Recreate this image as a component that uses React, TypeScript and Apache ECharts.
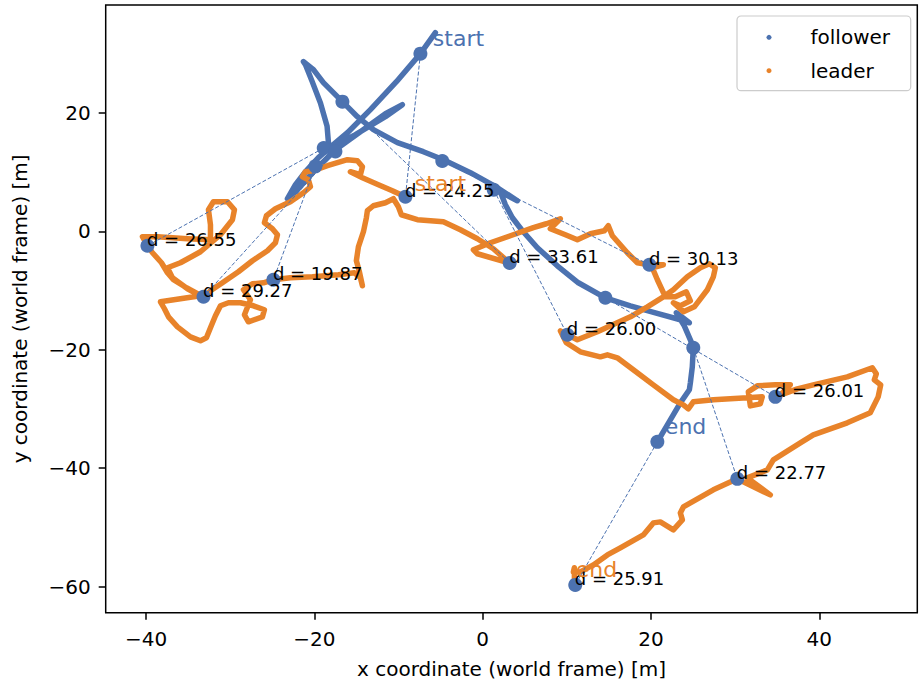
import React, { useEffect, useRef } from 'react';
import * as echarts from 'echarts';

const BLUE = '#4C72B0';
const ORANGE = '#E8832A';
const FONT = 'DejaVu Sans';

// follower trajectory (world frame, metres)
const followerPath: [number, number][] = [
  [-5.62, 33.58], [-7.40, 30.03], [-10.25, 25.30], [-13.34, 20.57], [-16.07, 16.68],
  [-18.45, 13.81], [-19.52, 12.46], [-21.06, 10.09], [-22.25, 7.89], [-23.20, 5.53],
  [-22.01, 7.05], [-19.88, 10.43], [-17.50, 13.81], [-14.53, 16.85], [-11.56, 19.89],
  [-9.54, 21.41], [-11.56, 19.38], [-15.12, 16.34], [-18.09, 14.15], [-19.04, 13.47],
  [-18.33, 14.99], [-18.49, 17.75], [-19.28, 21.70], [-20.27, 25.35], [-21.06, 28.17],
  [-21.30, 28.68], [-20.11, 27.33], [-18.93, 25.13], [-16.67, 21.92], [-14.89, 19.38],
  [-12.99, 17.19], [-10.13, 14.99], [-7.05, 13.47], [-4.67, 12.12], [-1.46, 9.92],
  [1.75, 7.39], [4.12, 5.19], [2.10, 6.71], [2.70, 4.51], [3.53, 2.32],
  [4.72, 0.12], [6.50, -2.75], [8.87, -5.80], [11.37, -8.67], [14.58, -11.21],
  [17.55, -12.56], [20.52, -13.74], [23.49, -14.92], [24.56, -15.43], [23.01, -13.74],
  [23.96, -15.94], [24.68, -18.30], [25.03, -19.66], [24.91, -22.87], [24.68, -25.57],
  [24.56, -26.75], [23.49, -28.95], [22.30, -31.82], [20.76, -35.54],
];

// leader trajectory (world frame, metres)
const leaderPath: [number, number][] = [
  [-9.18, 5.86], [-10.73, 6.88], [-12.39, 7.89], [-14.29, 9.08], [-15.72, 10.09],
  [-14.53, 9.58], [-14.29, 10.93], [-14.89, 11.95], [-16.07, 12.12], [-18.45, 11.10],
  [-20.11, 10.26], [-21.07, 10.09], [-21.42, 9.24], [-20.71, 8.74], [-20.47, 7.55],
  [-21.30, 6.54], [-22.85, 5.02], [-24.63, 3.84], [-25.70, 2.65], [-25.94, 1.47],
  [-24.99, 0.46], [-24.39, -0.56], [-24.63, -1.91], [-25.58, -3.26], [-27.36, -4.95],
  [-29.03, -6.81], [-30.93, -8.67], [-32.35, -10.02], [-33.18, -11.04], [-35.20, -9.51],
  [-36.75, -8.16], [-37.46, -6.98], [-38.17, -5.29], [-39.24, -3.60], [-39.84, -2.42],
  [-40.43, -0.90], [-38.65, -0.90], [-35.08, -1.23], [-32.35, -1.40], [-32.35, 1.13],
  [-32.59, 3.67], [-32.00, 5.02], [-30.33, 5.02], [-29.50, 3.67], [-29.74, 1.98],
  [-31.16, -0.56], [-33.54, -3.43], [-35.92, -5.29], [-37.46, -6.13], [-36.87, -7.82],
  [-35.08, -9.68], [-33.54, -10.87], [-35.92, -11.37], [-38.29, -11.88], [-37.82, -13.06],
  [-37.34, -14.42], [-36.27, -16.11], [-34.73, -17.80], [-33.54, -18.47], [-32.83, -17.96],
  [-32.35, -16.27], [-31.76, -14.25], [-31.16, -12.56], [-30.21, -12.05], [-28.79, -12.05],
  [-27.24, -12.56], [-25.94, -13.23], [-26.17, -14.42], [-27.84, -15.26], [-28.31, -14.08],
  [-27.60, -11.54], [-28.43, -9.85], [-27.36, -8.84], [-26.05, -8.67], [-24.87, -8.16],
  [-22.85, -7.82], [-20.23, -7.66], [-17.14, -7.32], [-15.24, -6.98], [-14.53, -7.82],
  [-14.29, -9.18], [-14.65, -6.81], [-15.01, -4.95], [-14.77, -2.59], [-14.17, -0.05],
  [-13.82, 2.32], [-13.70, 3.50], [-12.99, 4.34], [-11.56, 4.85], [-10.61, 5.53],
  [-10.02, 4.17], [-9.66, 2.82], [-7.76, 1.98], [-4.67, 1.64], [-2.65, 0.29],
  [-0.63, -1.23], [1.27, -2.92], [3.21, -5.34], [-0.63, -3.77], [-1.10, -3.09],
  [0.91, -1.91], [3.29, -0.73], [6.02, 0.63], [7.57, 1.30], [9.23, 2.15],
  [8.04, 0.46], [9.83, -0.56], [11.25, -1.40], [12.80, -0.39], [14.46, 0.12],
  [14.93, 0.96], [15.41, -0.73], [17.19, -3.60], [18.38, -5.29], [19.81, -5.63],
  [21.47, -5.63], [20.16, -6.13], [20.76, -8.16], [21.71, -11.04], [22.89, -11.04],
  [24.20, -10.19], [24.68, -11.71], [23.49, -12.56], [22.66, -12.05], [23.85, -13.57],
  [25.15, -12.73], [26.70, -9.85], [27.41, -7.66], [27.65, -6.13], [26.93, -5.46],
  [25.87, -6.13], [24.32, -7.66], [22.66, -9.85], [21.47, -11.04], [19.57, -12.73],
  [17.55, -14.42], [13.63, -16.95], [11.25, -18.30], [10.06, -17.46], [9.23, -16.78],
  [9.94, -18.81], [11.61, -20.33], [13.98, -21.18], [14.82, -20.84], [16.00, -21.34],
  [17.90, -23.37], [20.28, -25.91], [22.66, -28.44], [23.85, -29.29], [24.44, -29.96],
  [25.03, -28.78], [27.41, -28.44], [31.45, -28.10], [33.23, -27.94], [32.99, -29.12],
  [31.81, -29.46], [31.57, -27.09], [32.64, -26.08], [34.78, -25.91], [36.56, -25.91],
  [35.61, -27.26], [34.78, -27.94], [37.39, -26.58], [39.29, -25.91], [43.33, -24.56],
  [46.30, -23.03], [46.78, -24.05], [46.54, -25.06], [47.30, -25.91], [47.00, -27.94],
  [46.06, -30.64], [43.33, -32.33], [39.29, -34.36], [37.75, -35.71], [34.54, -38.58],
  [33.83, -40.27], [31.45, -41.62], [34.18, -44.50], [31.21, -42.47], [30.26, -41.79],
  [27.41, -43.65], [23.85, -46.53], [23.49, -47.54], [23.73, -48.72], [22.66, -50.41],
  [21.11, -49.06], [20.28, -49.23], [19.09, -51.26], [16.36, -53.45], [14.82, -54.64],
  [13.15, -56.33], [11.61, -57.51], [10.78, -57.51], [10.90, -56.80], [10.90, -58.60],
  [11.00, -59.70],
];

// sampled positions (pairs: follower i <-> leader i)
const followerDots: [number, number][] = [
  [-7.40, 30.03], [-18.89, 14.10], [-17.50, 13.52], [-19.88, 11.00], [-16.67, 21.92],
  [-4.80, 11.90], [1.31, 7.05], [14.58, -11.21], [25.03, -19.66], [20.76, -35.54],
];
const leaderDots: [number, number][] = [
  [-9.18, 5.86], [-39.84, -2.42], [-33.18, -11.04], [-24.87, -8.16], [3.21, -5.34],
  [19.81, -5.63], [10.06, -17.46], [34.78, -27.94], [30.26, -41.79], [11.00, -59.70],
];
const distances: string[] = [
  '24.25', '26.55', '29.27', '19.87', '33.61', '30.13', '26.00', '26.01', '22.77', '25.91',
];

// start / end annotations
const endpointTexts: string[] = ['start', 'start', 'end', 'end'];
const endpointOwners: string[] = ['follower', 'leader', 'follower', 'leader'];
const endpointPositions: [number, number][] = [
  [-5.86, 31.21], [-8.0, 6.71], [21.71, -34.36], [11.13, -58.52],
];

const xTicks = [-40, -20, 0, 20, 40];
const yTicks = [-60, -40, -20, 0, 20];

const fmt = (v: number) => (v < 0 ? '\u2212' + Math.abs(v) : String(v));

export default function App() {
  const ref = useRef<HTMLDivElement>(null);

  useEffect(() => {
    if (!ref.current) return;
    const chart = echarts.init(ref.current, undefined, { renderer: 'svg' });

    const pairLines = followerDots.map((f, i) => ({ coords: [f, leaderDots[i]] }));

    const labelData: any[] = leaderDots.map((p, i) => ({
      value: p,
      name: 'd = ' + distances[i],
      label: { fontSize: 18, color: '#000', offset: [0, -6.2] },
    }));
    endpointTexts.forEach((t, i) => {
      labelData.push({
        value: endpointPositions[i],
        name: t,
        label: {
          fontSize: 22,
          color: endpointOwners[i] === 'follower' ? BLUE : ORANGE,
          offset: [0, -7.6],
        },
      });
    });

    const tickStyle = {
      show: true,
      length: 7,
      inside: false,
      lineStyle: { color: '#000', width: 1.5 },
    };

    chart.setOption({
      animation: false,
      backgroundColor: '#fff',
      textStyle: { fontFamily: FONT },
      grid: {
        left: 105.7,
        right: 2.7,
        top: 5,
        bottom: 73.3,
        show: true,
        borderColor: '#000',
        borderWidth: 1.5,
        backgroundColor: 'transparent',
        outerBoundsMode: 'none',
      },
      xAxis: {
        type: 'value',
        position: 'bottom',
        min: -44.8,
        max: 51.65,
        splitLine: { show: false },
        axisLine: { show: false, onZero: false },
        axisTick: { ...tickStyle, customValues: xTicks },
        axisLabel: {
          customValues: xTicks,
          formatter: fmt,
          fontSize: 20,
          color: '#000',
          fontFamily: FONT,
          margin: 16,
        },
        name: 'x coordinate (world frame) [m]',
        nameLocation: 'middle',
        nameGap: 46,
        nameTextStyle: { fontSize: 20, color: '#000', fontFamily: FONT },
      },
      yAxis: {
        type: 'value',
        position: 'left',
        min: -64.4,
        max: 38.25,
        splitLine: { show: false },
        axisLine: { show: false, onZero: false },
        axisTick: { ...tickStyle, customValues: yTicks },
        axisLabel: {
          customValues: yTicks,
          formatter: fmt,
          fontSize: 20,
          color: '#000',
          fontFamily: FONT,
          margin: 15,
        },
        name: 'y coordinate (world frame) [m]',
        nameLocation: 'middle',
        nameGap: 76,
        nameRotate: 90,
        nameTextStyle: { fontSize: 20, color: '#000', fontFamily: FONT },
      },
      legend: {
        data: ['follower', 'leader'],
        orient: 'vertical',
        left: 737,
        top: 16,
        icon: 'circle',
        itemWidth: 5,
        itemHeight: 5,
        itemGap: 11.4,
        padding: [10.3, 20.7, 9, 29.5],
        backgroundColor: 'rgba(255,255,255,0.8)',
        borderColor: '#cccccc',
        borderWidth: 1.2,
        borderRadius: 4,
        selectedMode: false,
        textStyle: {
          fontSize: 20,
          color: '#000',
          fontFamily: FONT,
          lineHeight: 22,
          padding: [0, 0, 0, 34],
        },
      },
      series: [
        {
          type: 'line',
          name: 'follower',
          data: followerPath,
          showSymbol: false,
          symbol: 'none',
          silent: true,
          color: BLUE,
          lineStyle: { width: 5.5, color: BLUE, cap: 'round', join: 'round' },
          z: 2,
        },
        {
          type: 'line',
          name: 'leader',
          data: leaderPath,
          showSymbol: false,
          symbol: 'none',
          silent: true,
          color: ORANGE,
          lineStyle: { width: 5.5, color: ORANGE, cap: 'round', join: 'round' },
          z: 3,
        },
        {
          type: 'lines',
          coordinateSystem: 'cartesian2d',
          data: pairLines,
          silent: true,
          lineStyle: { color: BLUE, width: 1, type: [4, 2], opacity: 1 },
          z: 4,
        },
        {
          type: 'scatter',
          data: [...followerDots, ...leaderDots],
          symbolSize: 14,
          silent: true,
          itemStyle: { color: BLUE, opacity: 1 },
          z: 5,
        },
        {
          type: 'scatter',
          data: labelData,
          symbolSize: 1,
          silent: true,
          itemStyle: { color: 'rgba(0,0,0,0)' },
          label: {
            show: true,
            formatter: '{b}',
            position: [0, 0],
            align: 'left',
            verticalAlign: 'middle',
            fontFamily: FONT,
            opacity: 1,
            textBorderWidth: 0,
          },
          z: 6,
        },
      ],
    });

    return () => chart.dispose();
  }, []);

  return (
    <div
      ref={ref}
      style={{ position: 'fixed', left: 0, top: 0, width: 920, height: 686, background: '#fff' }}
    />
  );
}
